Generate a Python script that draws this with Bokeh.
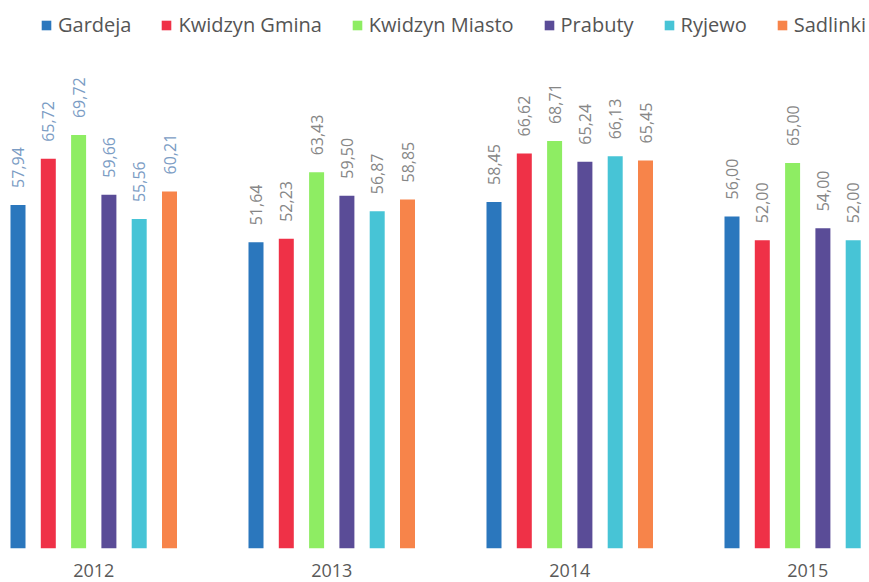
import numpy as np
from bokeh.plotting import figure
from bokeh.models import ColumnDataSource, Range1d, FixedTicker, Legend, LegendItem
from bokeh.embed import file_html
from bokeh.resources import INLINE
from bokeh.core.properties import value

# ---- data ----
years = ["2012", "2013", "2014", "2015"]
series = ["Gardeja", "Kwidzyn Gmina", "Kwidzyn Miasto", "Prabuty", "Ryjewo", "Sadlinki"]
gardeja = [57.94, 51.64, 58.45, 56.00]
kwidzyn_gmina = [65.72, 52.23, 66.62, 52.00]
kwidzyn_miasto = [69.72, 63.43, 68.71, 65.00]
prabuty = [59.66, 59.50, 65.24, 54.00]
ryjewo = [55.56, 56.87, 66.13, 52.00]
sadlinki = [60.21, 58.85, 65.45, None]
values = [gardeja, kwidzyn_gmina, kwidzyn_miasto, prabuty, ryjewo, sadlinki]

colors = ["#2b77bd", "#ef3147", "#8eed63", "#5a4c97", "#47c4d6", "#f7844a"]
label_colors = {"2012": "#7b9cc4", "2013": "#868686", "2014": "#868686", "2015": "#868686"}

# ---- layout constants (px based) ----
GROUP_PX = 238.0
SLOT = 30.3 / GROUP_PX
BAR_W = 15.0 / GROUP_PX
W, H = 869, 582
FRAME_H = 548
PX_PER_UNIT = 5.93
C0 = 93.25  # screen x of first group centre

p = figure(width=W, height=H, output_backend="svg", toolbar_location=None,
           x_range=Range1d(-C0 / GROUP_PX, (W - C0) / GROUP_PX),
           y_range=Range1d(0, FRAME_H / PX_PER_UNIT),
           min_border_left=0, min_border_right=0, min_border_top=0,
           min_border_bottom=H - FRAME_H)
p.outline_line_color = None
p.background_fill_color = "white"
p.border_fill_color = "white"
p.xgrid.visible = False
p.ygrid.visible = False
p.yaxis.visible = False

items = []
for k, (name, vals, col) in enumerate(zip(series, values, colors)):
    xs, tops, labels, lcols = [], [], [], []
    for i, v in enumerate(vals):
        if v is None:
            continue
        xs.append(i + (k - 2.5) * SLOT)
        tops.append(v)
        labels.append(f"{v:.2f}".replace(".", ","))
        lcols.append(label_colors[years[i]])
    src = ColumnDataSource(dict(x=xs, top=tops, label=labels, lcol=lcols))
    r = p.vbar(x="x", top="top", bottom=0, width=BAR_W, source=src,
               fill_color=col, line_color=None)
    p.text(x="x", y="top", text="label", source=src, angle=np.pi / 2,
           text_align="left", text_baseline="middle", y_offset=-17,
           text_font=value("Open Sans"), text_font_size="16px", text_color="lcol")
    items.append(LegendItem(label=name, renderers=[r]))

legend = Legend(items=items, orientation="horizontal", location=(40, FRAME_H - 38),
                glyph_width=12, glyph_height=12, label_standoff=6, spacing=29,
                padding=0, margin=0, label_text_font="Open Sans",
                label_text_font_size="20px", label_text_color="#555555",
                background_fill_alpha=0, border_line_color=None, label_height=20)
p.add_layout(legend, "center")

ax = p.xaxis[0]
ax.ticker = FixedTicker(ticks=[0, 1, 2, 3])
ax.major_label_overrides = {i: y for i, y in enumerate(years)}
ax.axis_line_color = None
ax.major_tick_line_color = None
ax.minor_tick_line_color = None
ax.major_tick_out = 0
ax.major_tick_in = 0
ax.major_label_standoff = 15
ax.major_label_text_font = "Open Sans"
ax.major_label_text_font_size = "18px"
ax.major_label_text_color = "#595959"

open("out.html", "w").write(file_html(p, INLINE))
